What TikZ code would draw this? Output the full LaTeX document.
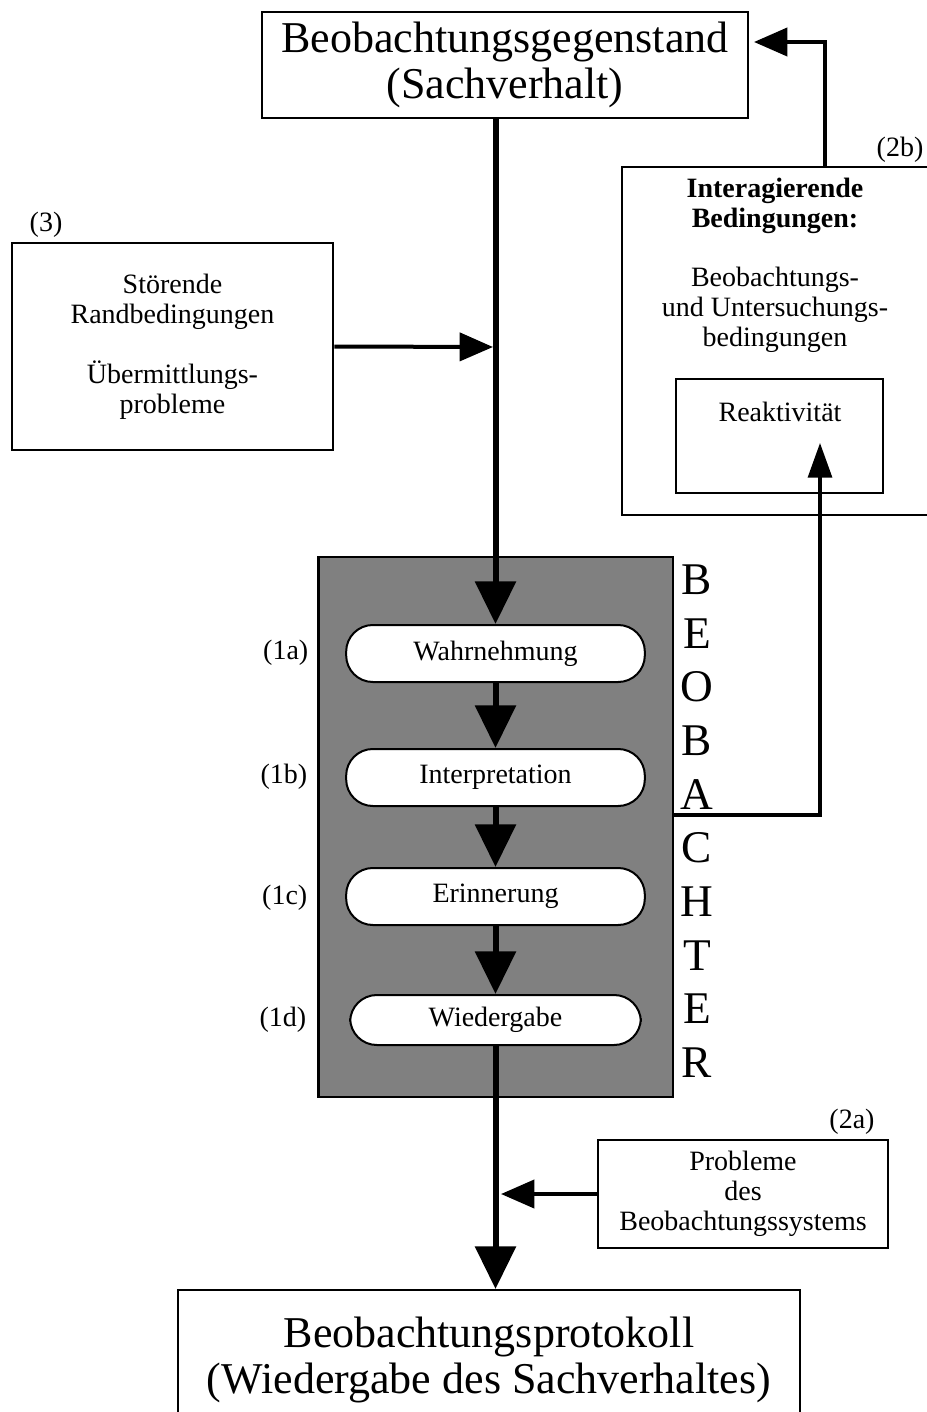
\documentclass[tikz,border=0pt]{standalone}
\usepackage{fontspec}
\setmainfont{Liberation Serif}
\usetikzlibrary{arrows.meta}

\definecolor{beogray}{gray}{0.5}

\tikzset{
  bigtext/.style={font=\fontsize{33}{34.5}\selectfont, align=center},
  midtext/.style={font=\fontsize{21}{22.5}\selectfont, align=center},
  framebox/.style={draw, line width=2pt, inner sep=0pt},
  procbox/.style={draw, fill=white, line width=1.5pt, rounded corners=20pt,
    minimum width=224pt, minimum height=42.75pt, font=\fontsize{21}{22.5}\selectfont},
  mainflow/.style={line width=4.5pt, -{Triangle[width=30pt,length=32pt]}},
  sideflow/.style={line width=3pt, -{Triangle[width=21pt,length=25pt]}},
  thinflow/.style={line width=2.4pt, -{Triangle[width=18pt,length=26pt]}},
  letter/.style={font=\fontsize{34}{34}\selectfont},
}

\begin{document}
\begin{tikzpicture}[x=0.75pt,y=-0.75pt]
\useasboundingbox (0,0) rectangle (927,1412);

% object and protocol
\node[framebox, bigtext, line width=1.5pt, minimum width=364.5pt, minimum height=79.5pt] (obj) at (505,65) {Beobachtungsgegenstand\\(Sachverhalt)};
\node[framebox, bigtext, line width=1.5pt, minimum width=466.5pt, minimum height=105pt] (prot) at (489,1360) {Beobachtungsprotokoll\\(Wiedergabe des Sachverhaltes)};

% (3)
\node[framebox, midtext, minimum width=240.75pt, minimum height=155.25pt] (stoer) at (172.5,346.5) {St\"orende\\Randbedingungen\\[22.5pt]\"Ubermittlungs-\\probleme};
\node[midtext] (n3) at (46,225) {(3)};

% (2b)
\node[framebox, minimum width=238.5pt, minimum height=261pt] (inter) at (781,341) {};
\node[midtext] (intertext) at (775,265) {\textbf{Interagierende}\\\textbf{Bedingungen:}\\[21.5pt]Beobachtungs-\\und Untersuchungs-\\bedingungen};
\node[framebox, minimum width=155.25pt, minimum height=85.5pt] (reakt) at (779.5,436) {};
\node[midtext] (reaktext) at (780,412) {Reaktivit\"at};
\node[midtext] (n2b) at (900,150) {(2b)};

% Beobachter
\node[framebox, fill=beogray, minimum width=266pt, minimum height=405pt] (beob) at (495.5,827) {};
\foreach \l [count=\i] in {B,E,O,B,A,C,H,T,E,R}
  \node[letter] (b\i) at ({697},{580+53.6*(\i-1)}) {\l};

\node[procbox] (wahr) at (495.5,653.5) {Wahrnehmung};
\node[procbox] (interp) at (495.5,777.5) {Interpretation};
\node[procbox] (erin) at (495.5,896.5) {Erinnerung};
\node[procbox, minimum width=218pt, minimum height=37.5pt] (wieder) at (495.5,1020) {Wiedergabe};

\node[midtext, anchor=east] (l1a) at (313,653) {(1a)};
\node[midtext, anchor=east] (l1b) at (312,777) {(1b)};
\node[midtext, anchor=east] (l1c) at (312,898) {(1c)};
\node[midtext, anchor=east] (l1d) at (311,1020) {(1d)};

% (2a)
\node[framebox, midtext, minimum width=217.5pt, minimum height=81pt] (probl) at (743,1194) {Probleme\\des\\Beobachtungssystems};
\node[midtext] (n2a) at (852,1122) {(2a)};

% main flow
\draw[mainflow] (obj.south -| wahr.north) -- (wahr.north);
\draw[mainflow] (wahr) -- (interp);
\draw[mainflow] (interp) -- (erin);
\draw[mainflow] (erin) -- (wieder);
\draw[mainflow] (wieder.south) -- (wieder.south |- prot.north);

% side arrows
\coordinate (m3) at (493,347);
\coordinate (m2a) at (501,1194);
\coordinate (m2b) at (754,42);
\coordinate (reaktip) at (820,443);
\draw[sideflow] (stoer.east) -- (m3);
\draw[sideflow] (probl.west) -- (m2a);
\draw[sideflow] ([xshift=33pt]inter.north) |- (m2b);
\draw[thinflow] ([yshift=9pt]beob.east) -| (reaktip);

\end{tikzpicture}
\end{document}
